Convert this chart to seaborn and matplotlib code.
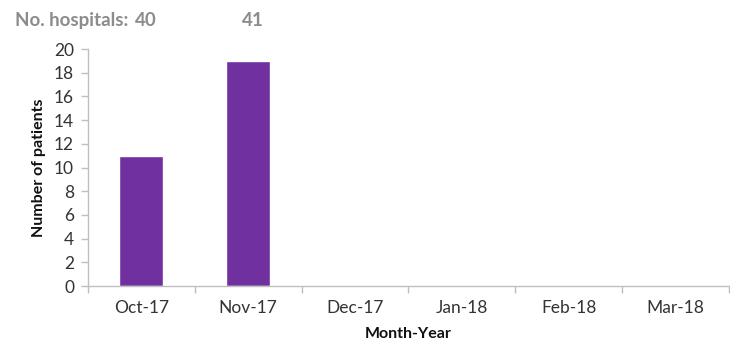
import matplotlib
matplotlib.use("Agg")
import matplotlib.pyplot as plt
import seaborn as sns
import pandas as pd

months = ["Oct-17", "Nov-17", "Dec-17", "Jan-18", "Feb-18", "Mar-18"]
patients = [11, 19, 0, 0, 0, 0]
hospital_months = ["Oct-17", "Nov-17"]
hospital_counts = [40, 41]
y_ticks = list(range(0, 21, 2))

sns.set_theme(style="white")
plt.rcParams["font.family"] = ["Lato", "DejaVu Sans"]

df = pd.DataFrame({"month": months, "patients": patients})

fig = plt.figure(figsize=(7.30, 3.42), dpi=100)
ax = fig.add_axes([0.1205, 0.1637, 0.878, 0.693])

sns.barplot(data=df, x="month", y="patients", order=months, color="#7030A0",
            saturation=1, width=0.41, ax=ax)

ax.set_ylim(0, 20)
ax.set_xlim(-0.5, len(months) - 0.5)
ax.set_yticks(y_ticks)
ax.set_yticklabels([str(v) for v in y_ticks], fontsize=12.5, color="#333333")
ax.set_xticks(range(len(months)))
ax.set_xticklabels(months, fontsize=12.5, color="#333333")

# tick marks at category boundaries on the x axis
ax.set_xticks([i - 0.5 for i in range(len(months) + 1)], minor=True)
ax.tick_params(axis="x", which="major", length=0, pad=10)
ax.tick_params(axis="x", which="minor", length=5, color="#BFBFBF", width=1, bottom=True)
ax.tick_params(axis="y", length=5, color="#BFBFBF", width=1, left=True, pad=5)

for side in ["top", "right"]:
    ax.spines[side].set_visible(False)
for side in ["left", "bottom"]:
    ax.spines[side].set_color("#BFBFBF")
    ax.spines[side].set_linewidth(1)

ax.set_xlabel("Month-Year", fontsize=11.5, fontweight="bold", color="#111111", labelpad=8)
ax.set_ylabel("Number of patients", fontsize=11.5, fontweight="bold", color="#111111", labelpad=6)

# hospital counts above each month
for m, c in zip(hospital_months, hospital_counts):
    ax.text(months.index(m) + 0.04, 22.4, str(c), ha="center", va="center",
            fontsize=13.5, fontweight="bold", color="#8C8C8C", clip_on=False)
ax.text(months.index(hospital_months[0]) - 0.12, 22.4, "No. hospitals:", ha="right",
        va="center", fontsize=13.5, fontweight="bold", color="#8C8C8C", clip_on=False)

fig.savefig("out.png", dpi=100)
